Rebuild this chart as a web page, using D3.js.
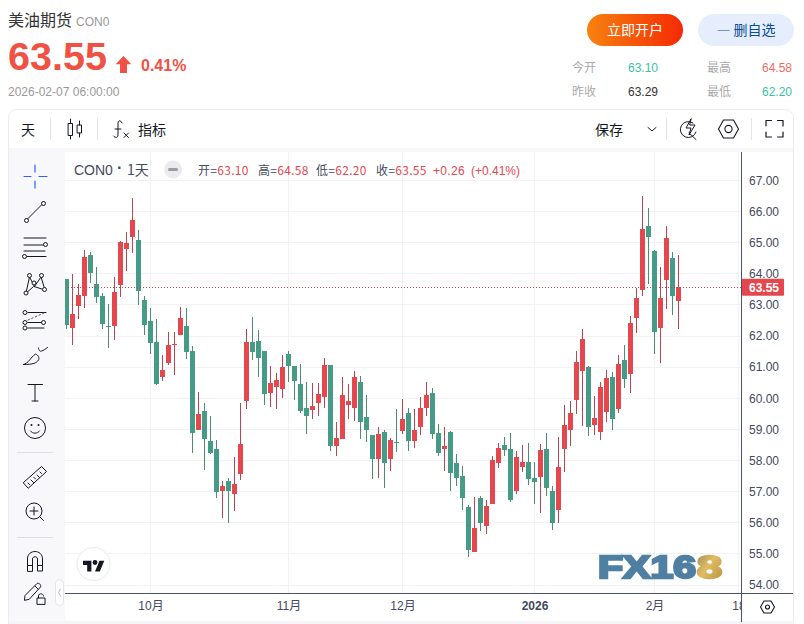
<!DOCTYPE html>
<html lang="zh">
<head>
<meta charset="utf-8">
<title>美油期货 CON0</title>
<script src="https://cdn.jsdelivr.net/npm/d3@7"></script>
<style>
html,body{margin:0;padding:0;background:#fff;overflow:hidden}
svg{display:block}
text{font-family:"Liberation Sans","Noto Sans CJK SC",sans-serif}
.cjk{font-family:"Noto Sans CJK SC","Liberation Sans",sans-serif}
</style>
</head>
<body>
<div id="chart"></div>
<script>
// ---- data ----
const opens = [63.82,62.24,62.95,63.27,64.59,63.66,63.27,62.32,62.31,63.62,64.78,65.16,65.07,63.14,62.46,61.79,60.67,61.12,61.70,62.01,62.30,61.50,58.96,59.57,58.61,58.35,57.00,57.33,56.91,57.55,59.90,61.79,61.82,61.50,60.15,60.34,60.28,61.40,61.02,60.44,59.67,59.61,59.83,60.03,61.06,58.45,58.68,59.77,59.68,60.51,59.39,58.81,58.04,58.90,58.04,58.59,58.94,59.52,58.62,59.07,59.68,60.16,58.87,58.36,58.90,57.91,57.49,56.49,55.05,56.78,55.88,56.59,57.90,58.48,58.35,57.01,57.78,57.94,57.42,57.46,58.35,57.01,56.39,58.35,58.96,59.93,60.86,60.99,59.13,58.90,59.54,60.67,59.64,61.21,60.76,62.56,63.46,65.52,64.72,62.24,63.78,64.49,63.10];
const highs = [63.82,63.98,63.66,64.75,64.68,64.20,63.37,63.01,63.88,65.04,65.33,66.42,65.39,63.27,62.88,62.53,61.37,62.11,62.11,62.91,62.88,61.66,60.18,59.83,59.41,58.64,57.33,57.42,58.10,59.83,62.21,62.59,62.18,61.50,61.02,60.79,61.37,61.50,61.02,61.08,60.51,60.47,60.47,61.28,61.06,59.23,60.67,60.45,60.87,60.71,60.09,58.81,59.07,58.97,58.71,59.64,59.97,59.68,59.64,60.03,60.51,60.32,59.16,59.07,58.94,58.20,57.81,56.56,56.81,56.84,56.72,58.13,58.55,58.74,58.87,58.29,58.48,58.55,57.94,58.52,58.87,57.17,58.74,59.77,59.90,61.50,62.21,61.02,60.06,60.51,60.89,60.83,61.37,61.70,62.63,63.53,66.48,66.10,64.75,64.20,65.52,64.68,64.58];
const lows = [62.20,61.70,62.53,62.88,63.69,63.04,62.21,61.60,61.86,63.24,64.07,64.65,62.98,62.01,61.40,60.41,60.54,61.05,60.73,62.01,61.24,58.23,58.96,57.68,58.19,56.78,56.14,55.98,56.36,57.36,59.64,61.21,60.67,59.77,59.70,59.64,59.99,60.51,59.93,59.51,58.84,59.32,59.41,59.68,58.29,58.13,58.68,59.32,59.26,58.68,58.58,57.39,57.43,57.10,57.65,58.26,58.84,58.29,58.39,58.81,59.42,58.68,58.13,57.65,57.00,57.17,56.39,54.88,55.05,55.72,55.62,56.59,57.74,58.13,56.65,56.91,57.62,57.20,56.59,56.30,56.84,55.75,55.98,57.62,58.45,59.48,59.09,58.77,58.80,58.64,59.22,58.97,59.51,60.31,60.15,62.08,63.27,63.66,61.41,61.12,62.85,62.66,62.20];
const closes = [62.35,62.69,63.29,64.52,64.01,63.24,62.37,62.28,63.40,65.00,64.97,65.71,63.43,62.34,61.76,60.44,60.89,61.69,61.73,62.56,61.47,58.87,59.48,58.67,58.22,56.97,57.16,57.00,57.23,58.51,61.79,61.47,61.28,60.12,60.47,60.57,60.99,61.02,60.54,59.57,59.41,59.73,60.12,61.06,58.45,58.71,60.09,59.90,60.67,59.23,58.97,58.04,58.84,57.91,58.65,58.55,59.32,58.62,58.97,59.68,60.09,58.84,58.23,58.45,57.59,57.43,56.78,55.11,55.82,55.98,56.52,58.00,58.39,58.32,56.72,58.10,57.94,57.39,57.29,58.32,57.10,55.98,57.78,59.13,59.51,61.15,61.89,59.06,59.35,60.35,60.64,59.32,61.09,60.60,62.40,63.21,65.42,65.16,62.11,63.21,65.13,63.27,63.55];
const priceTicks = [54,55,56,57,58,59,60,61,62,63,64,65,66,67];
const timeTickIndex = [14,37,56,78,98,112];
const timeTickLabels = ["10月","11月","12月","2026","2月","18"];
const lastPrice = 63.55;
const sideIcons = ["cross","line","lines","xabcd","fib","brush","text","smile","ruler","zoom","magnet","lock"];

// ---- layout ----
const W=804,H=624;
const chartL=65,axisX=741,chartT=152,chartB=593;
const x=d3.scaleLinear().domain([0,102]).range([66.5,678.5]);
const y=d3.scaleLinear().domain([54,67]).range([584.5,179.9]);

const UP="#E5474F",DOWN="#459B85",UPW="#BC4350",DOWNW="#4A8F6B";
const INK="#131722",AX="#4A5270",LABEL="#434A5E",GRID="#F2F2F4";

const svg=d3.select("#chart").append("svg").attr("width",W).attr("height",H).attr("viewBox",`0 0 ${W} ${H}`);
const defs=svg.append("defs");
const g1=defs.append("linearGradient").attr("id","btn");
g1.append("stop").attr("offset","0").attr("stop-color","#F7820F");
g1.append("stop").attr("offset","1").attr("stop-color","#F52A04");
const g2=defs.append("linearGradient").attr("id","gold").attr("x1","0").attr("x2","1").attr("y1","0").attr("y2","1");
g2.append("stop").attr("offset","0").attr("stop-color","#9C8A5A");
g2.append("stop").attr("offset",".45").attr("stop-color","#E0BC62");
g2.append("stop").attr("offset","1").attr("stop-color","#B98F3E");
defs.append("filter").attr("id","soft").append("feGaussianBlur").attr("stdDeviation",.6);
defs.append("clipPath").attr("id","plot").append("rect").attr("x",chartL).attr("y",chartT).attr("width",axisX-chartL).attr("height",chartB-chartT);
defs.append("clipPath").attr("id","tscale").append("rect").attr("x",chartL).attr("y",chartB).attr("width",axisX-chartL).attr("height",H-chartB);

function T(s,px,py,size,fill,o={}){
  const t=svg.append("text").attr("x",px).attr("y",py).attr("font-size",size).attr("fill",fill).text(s);
  if(o.cjk)t.attr("class","cjk");
  if(o.w)t.attr("font-weight",o.w);
  if(o.a)t.attr("text-anchor",o.a);
  if(o.ls)t.attr("letter-spacing",o.ls);
  return t;
}
const P=(d,g=svg,sw=1,st=INK,fi="none")=>g.append("path").attr("d",d).attr("fill",fi).attr("stroke",st).attr("stroke-width",sw).attr("stroke-linecap","round").attr("stroke-linejoin","round");

// ---- header ----
T("美油期货",8,26,16,"#333",{cjk:1});
T("CON0",76,26,12,"#999");
T("63.55",8,69.5,39.5,"#EF5244",{w:700});
P("M123.5 56l7.8 8.2h-4.3V73h-7v-8.8h-4.3z",svg,0,"none","#EF5244");
T("0.41%",141,71,16,"#EF5244",{w:700});
T("2026-02-07 06:00:00",8,96,12,"#999");
svg.append("rect").attr("x",587).attr("y",14).attr("width",96).attr("height",32).attr("rx",16).attr("fill","url(#btn)");
T("立即开户",635,35,14,"#fff",{cjk:1,a:"middle"});
svg.append("rect").attr("x",698).attr("y",14).attr("width",96).attr("height",32).attr("rx",16).attr("fill","#E6EEFD");
T("— 删自选",746,35,14,"#0B4F9A",{cjk:1,a:"middle"});
T("今开",572,72,12,"#AAA",{cjk:1});
T("63.10",628,72,12,"#3BBFA0");
T("最高",707,72,12,"#AAA",{cjk:1});
T("64.58",792,72,12,"#EF6C5E",{a:"end"});
T("昨收",572,96,12,"#AAA",{cjk:1});
T("63.29",628,96,12,"#333");
T("最低",707,96,12,"#AAA",{cjk:1});
T("62.20",792,96,12,"#3BBFA0",{a:"end"});

// ---- card ----
svg.append("rect").attr("x",8.5).attr("y",109.5).attr("width",785).attr("height",530).attr("rx",8).attr("fill","#fff").attr("stroke","#EBEBEF");
svg.append("rect").attr("x",9).attr("y",148).attr("width",784).attr("height",4).attr("fill","#F7F7F9");
svg.append("rect").attr("x",9).attr("y",152).attr("width",56).attr("height",472).attr("fill","#F8F8FB");
svg.append("rect").attr("x",9).attr("y",621).attr("width",785).attr("height",3).attr("fill","#F5F5F8");

// toolbar
[50.5,97.5,666.5,751.5].forEach(px=>svg.append("line").attr("x1",px).attr("x2",px).attr("y1",118).attr("y2",140).attr("stroke","#E4E4E8"));
T("天",21,135,14,INK,{cjk:1});
const bar=svg.append("g");
P("M68.5 123.5h4v12h-4zM70.5 119v4.5M70.5 135.5v3.5M77.5 125h4v8h-4zM79.5 121v4M79.5 133v4",bar);
P("M122 123c-1-3-4-3-4 0v12c0 3-3 3-4.5 1M115 129h6M124 133l4.500 4.500M128.500 133l-4.500 4.500",bar);
T("指标",138,135,14,INK,{cjk:1});
T("保存",595,135,14,INK,{cjk:1});
P("M648 127.5l4 3.5 4-3.5",bar);
P("M693 123a8 8 0 1 0 3 9M689 133l7 6.500M691 119l-5 9h5l-2 7 6-10h-5z",bar);
P("M718.500 129l5-9h10l5 9-5 9h-10z",bar,1.1);
bar.append("circle").attr("cx",728.500).attr("cy",129).attr("r",3.600).attr("fill","none").attr("stroke",INK).attr("stroke-width",1.1);
P("M766 126v-5.500h5.500M777.500 120.500h5.500v5.500M783 132v5h-5.500M771.500 137h-5.500v-5",bar,1.2);

// ---- plot ----
const plot=svg.append("g").attr("clip-path","url(#plot)");
plot.append("g").selectAll("line").data(priceTicks).join("line")
  .attr("x1",chartL).attr("x2",axisX).attr("y1",d=>Math.round(y(d))+.5).attr("y2",d=>Math.round(y(d))+.5).attr("stroke",GRID);
plot.append("g").selectAll("line").data(timeTickIndex).join("line")
  .attr("x1",d=>x(d)).attr("x2",d=>x(d)).attr("y1",chartT).attr("y2",chartB).attr("stroke",GRID);

const candles=d3.range(opens.length);
const isUp=i=>closes[i]>=opens[i];
const cg=plot.append("g").attr("shape-rendering","crispEdges");
cg.selectAll("line").data(candles).join("line")
  .attr("x1",i=>x(i)).attr("x2",i=>x(i)).attr("y1",i=>y(highs[i])).attr("y2",i=>y(lows[i]))
  .attr("stroke",i=>isUp(i)?UPW:DOWNW).attr("stroke-width",1);
cg.selectAll("rect").data(candles).join("rect")
  .attr("x",i=>x(i)-2.5).attr("width",5)
  .attr("y",i=>y(Math.max(opens[i],closes[i])))
  .attr("height",i=>Math.max(1,Math.abs(y(opens[i])-y(closes[i]))))
  .attr("fill",i=>isUp(i)?UP:DOWN);

plot.append("line").attr("x1",chartL).attr("x2",axisX).attr("y1",Math.round(y(lastPrice))+.5).attr("y2",Math.round(y(lastPrice))+.5)
  .attr("stroke",UPW).attr("stroke-dasharray","1 2");

// ---- logo ----
const logo=svg.append("g").attr("filter","url(#soft)");
logo.append("text").attr("x",598).attr("y",577.5).attr("font-size",31).attr("font-weight",700).attr("fill","#4F7FA3").attr("stroke","#4F7FA3").attr("stroke-width",2.4)
  .attr("textLength",98).attr("lengthAdjust","spacingAndGlyphs").text("FX16");
logo.append("text").attr("x",697).attr("y",577.5).attr("font-size",31).attr("font-weight",700).attr("fill","url(#gold)").attr("stroke","url(#gold)").attr("stroke-width",2.4)
  .attr("textLength",25).attr("lengthAdjust","spacingAndGlyphs").text("8");

// TV badge
svg.append("circle").attr("cx",93.5).attr("cy",564).attr("r",16.5).attr("fill","#fff").attr("stroke","#E8E8EF").attr("stroke-width",1);
svg.append("path").attr("transform","translate(83,556.500) scale(.6)").attr("fill",INK).attr("d","M14 25H7V14H0V7h14v18zM28 25h-8l7.500-18h8L28 25z");
svg.append("circle").attr("cx",95).attr("cy",562.500).attr("r",2.4).attr("fill",INK);

// ---- legend ----
T("CON0",74,175,14,LABEL);
T("·",117,173,16,LABEL,{w:700});
T("1天",127,175,14,LABEL,{cjk:1});
svg.append("circle").attr("cx",173).attr("cy",169.5).attr("r",9).attr("fill","#EBEBEF");
svg.append("rect").attr("x",168).attr("y",168).attr("width",10).attr("height",3).attr("rx",1.5).attr("fill","#9A9AA5");
[["开=",198,"63.10"],["高=",258,"64.58"],["低=",316,"62.20"],["收=",376,"63.55"]].forEach(([k,px,v])=>{
  const t=T(k,px,175,12,LABEL,{cjk:1,ls:.3});
  t.append("tspan").attr("fill",UP).text(v);
});
T("+0.26",433,175,12,UP,{ls:.3});
T("(+0.41%)",471,175,12,UP);

// ---- axes ----
const yAxis=d3.axisRight(y).tickValues(priceTicks).tickSize(0).tickPadding(8).tickFormat(d3.format(".2f"));
const ya=svg.append("g").attr("transform",`translate(${axisX},0)`).call(yAxis);
ya.select(".domain").remove();
ya.selectAll("text").attr("font-size",12).attr("dy","0.36em").attr("fill",LABEL).style("font-family",'"Liberation Sans",sans-serif');

const xAxis=d3.axisBottom(x).tickValues(timeTickIndex).tickSize(0).tickPadding(8).tickFormat((d,i)=>timeTickLabels[i]);
const xa=svg.append("g").attr("clip-path","url(#tscale)").append("g").attr("transform",`translate(0,${chartB})`).call(xAxis);
xa.select(".domain").remove();
xa.selectAll("text").attr("font-size",12).attr("fill",LABEL)
  .attr("font-weight",(d,i)=>timeTickLabels[i]==="2026"?700:400)
  .style("font-family",'"Liberation Sans","Noto Sans CJK SC",sans-serif');

svg.append("line").attr("x1",chartL).attr("x2",793).attr("y1",chartB+.5).attr("y2",chartB+.5).attr("stroke",AX);
svg.append("line").attr("x1",axisX+.5).attr("x2",axisX+.5).attr("y1",chartT).attr("y2",622).attr("stroke",AX);

// price tag
svg.append("rect").attr("x",742).attr("y",y(lastPrice)-8.5).attr("width",42).attr("height",17).attr("fill",UP).attr("rx",1);
svg.append("text").attr("x",749).attr("y",y(lastPrice)+4.500).attr("font-size",12).attr("fill","#fff").attr("font-weight",700).text(lastPrice.toFixed(2));

// scale settings hexagon
P("M760.500 607l3.500-6h7l3.500 6-3.500 6h-7z",svg,1.1);
svg.append("circle").attr("cx",767.500).attr("cy",607).attr("r",2).attr("fill","none").attr("stroke",INK).attr("stroke-width",1.1);

// ---- sidebar ----
const S=svg.append("g");
const ring=(cx,cy,r=2)=>S.append("circle").attr("cx",cx).attr("cy",cy).attr("r",r).attr("fill","#F8F8FB").attr("stroke",INK).attr("stroke-width",1);
const draw={
  cross(){P("M35 165v7M35 181v7M24 176.500h7M39 176.500h8",S,1.2,"#2962FF");},
  line(){P("M26.500 220l17-17",S);ring(26.500,220.500);ring(43.500,203.500);},
  lines(){P("M24 238h22M24 245h20M24 251h21M27 256.500h19",S);ring(45.500,244.500);ring(24.500,256.500);},
  xabcd(){P("M26 293l3.500-16 5 9.500 6.500-9.500 4 13-11-3.500z",S);[[26,293],[29.500,275.500],[34,283],[41.500,275.500],[44.500,289.500]].forEach(p=>ring(p[0],p[1]));},
  fib(){P("M28 328h16M28 322.500h14M28 312.500h18",S);P("M28 320l16-7",S,1,"#555").attr("stroke-dasharray","1.500 2.500");[[25,312.500],[25,322.500],[25,328],[43.500,322.500]].forEach(p=>ring(p[0],p[1]));},
  brush(){P("M23.500 364.500c5-1 7-7 12-10.500 3 1 4 4 3 6-2 3-5 4.500-15 4.500zM38.500 348c0 2 1.500 4 3 3 2-.5 4-2 6-3.500",S);},
  text(){P("M28 384.500h14.500M35 384.500v16.500M32 401h6",S);},
  smile(){S.append("circle").attr("cx",35).attr("cy",428).attr("r",10.500).attr("fill","none").attr("stroke",INK).attr("stroke-width",1);
    S.append("circle").attr("cx",31.500).attr("cy",425).attr("r",1).attr("fill",INK);S.append("circle").attr("cx",38.500).attr("cy",425).attr("r",1).attr("fill",INK);P("M30.500 431c2 3 7 3 9 0",S);},
  ruler(){P("M23.500 482.500l18-16 5 5-18 16.500zM28 483l1.500 1.500M31 480l2.500 2.500M34 477.500l1.500 1.500M37 475l2.500 2.500M40 472l1.500 1.500",S);},
  zoom(){S.append("circle").attr("cx",34).attr("cy",511).attr("r",8).attr("fill","none").attr("stroke",INK).attr("stroke-width",1);P("M34 507v8M30 511h8M40 517l3.500 3.500",S);},
  magnet(){P("M27.500 571v-12c0-10 15-10 15 0v12h-5v-12c0-3-5-3-5 0v12zM27.500 565.500h5M37.500 565.500h5",S);},
  lock(){P("M24.500 600l.500-4.500 12-12c2-1 4.500 1.500 3.500 3.500l-11 12zM35 586l3.500 3.500",S);P("M37 604v-6h8v6zM38.500 598v-2c0-3 5-3 5 0",S);}
};
sideIcons.forEach(n=>draw[n]());
[452.500,537.500].forEach(py=>S.append("line").attr("x1",17).attr("x2",53).attr("y1",py).attr("y2",py).attr("stroke","#DCDCE6"));
svg.append("rect").attr("x",55.500).attr("y",579.500).attr("width",8).attr("height",26).attr("rx",4).attr("fill","#fff").attr("stroke","#E4E4EA");
P("M60.500 589l-2 3.500 2 3.500",svg,1,"#B5B5BE");
</script>
</body>
</html>
